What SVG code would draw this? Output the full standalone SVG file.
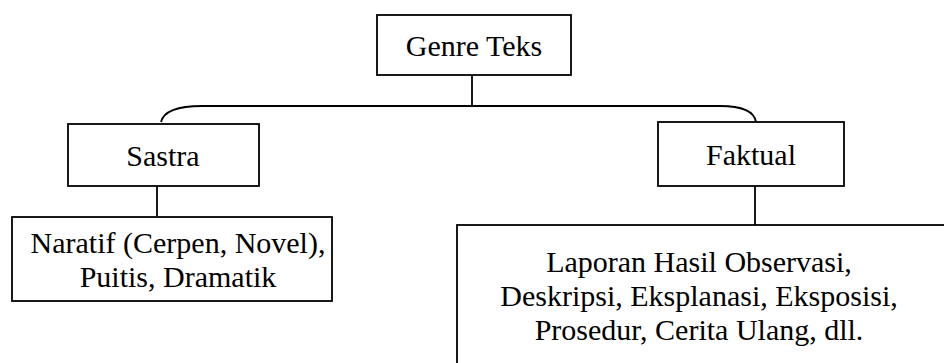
<svg xmlns="http://www.w3.org/2000/svg" width="944" height="363" viewBox="0 0 944 363">
<style>
.box{fill:#fff;stroke:#000;stroke-width:1.8}
.ln{fill:none;stroke:#000;stroke-width:1.8}
.t{font-family:'Liberation Serif',Tinos,'Times New Roman',Times,'Nimbus Roman','DejaVu Serif',serif;font-size:30px;fill:#000;text-anchor:middle}
</style>
<rect width="944" height="363" fill="#fff"/>
<g id="connectors">
<path class="ln" d="M472,75 V106"/>
<path class="ln" d="M161,122 C164,110 180,106 202,106 H720 C740,106 754,110 756,122"/>
<path class="ln" d="M157,186 V216"/>
<path class="ln" d="M755,186 V225"/>
</g>
<g id="genre-teks">
<rect class="box" x="377" y="15" width="194" height="60"/>
<text class="t" x="474" y="56">Genre Teks</text>
</g>
<g id="sastra">
<rect class="box" x="68" y="124" width="191" height="62"/>
<text class="t" x="163" y="166">Sastra</text>
</g>
<g id="faktual">
<rect class="box" x="658" y="122" width="186" height="64"/>
<text class="t" x="751" y="165">Faktual</text>
</g>
<g id="sastra-list">
<rect class="box" x="12" y="217" width="320" height="84"/>
<text class="t" x="178" y="253">Naratif (Cerpen, Novel),</text>
<text class="t" x="178" y="287">Puitis, Dramatik</text>
</g>
<g id="faktual-list">
<rect class="box" x="457" y="225" width="500" height="160"/>
<text class="t" x="699" y="272">Laporan Hasil Observasi,</text>
<text class="t" x="699" y="306">Deskripsi, Eksplanasi, Eksposisi,</text>
<text class="t" x="699" y="340">Prosedur, Cerita Ulang, dll.</text>
</g>
</svg>
